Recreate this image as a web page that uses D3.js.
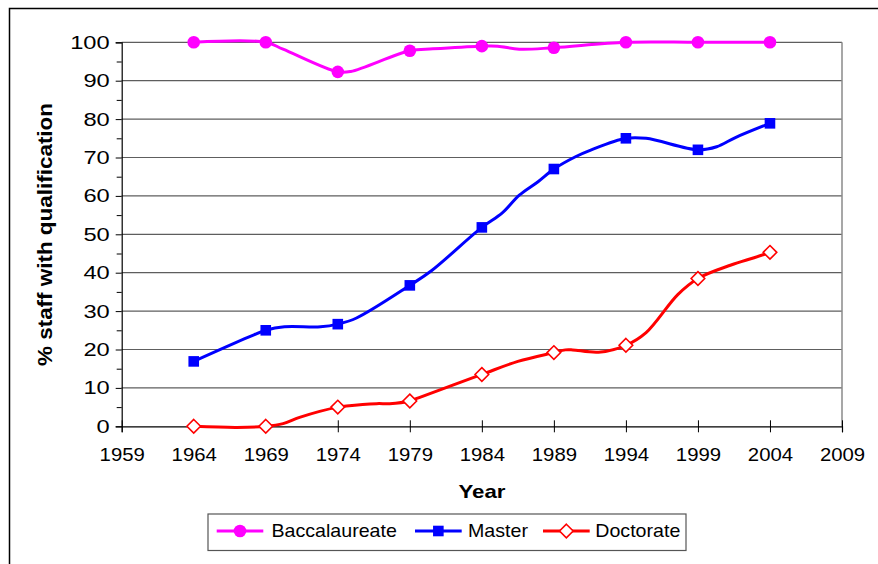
<!DOCTYPE html>
<html>
<head>
<meta charset="utf-8">
<script src="https://cdn.jsdelivr.net/npm/d3@7/dist/d3.min.js"></script>
<style>
  html, body { margin: 0; padding: 0; background: #fff; }
  svg { display: block; }
  text { font-family: "Liberation Sans", Arial, sans-serif; fill: #000; }
</style>
</head>
<body>
<svg id="chart" width="878" height="564"></svg>
<script>
// ---- data ----
const markerYears = [1964, 1969, 1974, 1979, 1984, 1989, 1994, 1999, 2004];
const xTickYears = [1959, 1964, 1969, 1974, 1979, 1984, 1989, 1994, 1999, 2004, 2009];
const yTickValues = [0, 10, 20, 30, 40, 50, 60, 70, 80, 90, 100];

const bachYears  = [1964, 1969, 1970.2, 1974, 1974.9, 1979, 1980.6, 1984, 1985.1, 1986.6, 1989, 1994, 1999, 2004];
const bachValues = [100, 100, 98.2, 92.3, 92.4, 97.8, 98.3, 99.0, 99.0, 98.2, 98.6, 100, 100, 100];

const masterYears  = [1964, 1967.8, 1969, 1970.3, 1972.8, 1974, 1975.3, 1979, 1980.5, 1984, 1985.4, 1986.6, 1987.9, 1989, 1990.5, 1991.6, 1994, 1995.4, 1999, 2000.3, 2001.6, 2004];
const masterValues = [16.9, 23.2, 25.0, 25.9, 25.9, 26.6, 28.2, 36.7, 40.5, 51.8, 55.5, 60.2, 63.7, 67.0, 70.2, 72.0, 75.0, 75.0, 72.0, 72.8, 75.2, 78.9];

const doctYears  = [1964, 1967, 1969, 1970.2, 1971.4, 1974, 1974.6, 1976.7, 1977.6, 1979, 1979.6, 1984, 1986.5, 1989, 1989.8, 1990.3, 1992.1, 1994, 1995.4, 1997.6, 1999, 2001.3, 2002.9, 2004];
const doctValues = [0, -0.3, 0, 0.7, 2.4, 5.0, 5.3, 5.9, 5.9, 6.6, 7.4, 13.5, 16.9, 19.2, 19.9, 19.9, 19.3, 21.1, 24.4, 34.3, 38.5, 42.0, 43.9, 45.3];

const seriesNames = ["Baccalaureate", "Master", "Doctorate"];

// ---- layout ----
const svg = d3.select("#chart");
const pLeft = 121.7, pRight = 842, pTop = 42.3, pBottom = 426.3;
const x = d3.scaleLinear().domain([1959, 2009]).range([pLeft, pRight]);
const y = d3.scaleLinear().domain([0, 100]).range([pBottom, pTop]);

function stretch(sel, k) {
  sel.each(function () {
    const w = this.getComputedTextLength();
    this.setAttribute("textLength", w * k);
    this.setAttribute("lengthAdjust", "spacingAndGlyphs");
  });
}

// outer frame
svg.append("rect").attr("x", 9.5).attr("y", 8.5).attr("width", 900).attr("height", 600)
  .attr("fill", "none").attr("stroke", "#000").attr("stroke-width", 1.5);

// gridlines
svg.append("g").selectAll("line").data(yTickValues.filter(v => v > 0)).join("line")
  .attr("x1", pLeft).attr("x2", pRight)
  .attr("y1", d => y(d)).attr("y2", d => y(d))
  .attr("stroke", "#5e5e5e").attr("stroke-width", 1.2);
// right border of plot area
svg.append("line").attr("x1", pRight).attr("x2", pRight).attr("y1", pTop).attr("y2", pBottom)
  .attr("stroke", "#8a8a8a").attr("stroke-width", 1.5);

// y axis
const yAxis = d3.axisLeft(y).tickValues(yTickValues).tickSize(6).tickPadding(6).tickFormat(d3.format("d"));
const gy = svg.append("g").attr("transform", `translate(${pLeft},0)`).call(yAxis);
gy.select(".domain").attr("stroke", "#000").attr("stroke-width", 1.2);
gy.selectAll(".tick line").attr("stroke", "#000");
gy.selectAll(".tick text").attr("font-size", 18.5).attr("font-family", "Liberation Sans, Arial, sans-serif")
  .attr("fill", "#000").call(stretch, 1.28);
// minor ticks
const yMinor = d3.axisLeft(y).tickValues(d3.range(5, 100, 10)).tickSize(5).tickFormat("");
const gym = svg.append("g").attr("transform", `translate(${pLeft},0)`).call(yMinor);
gym.select(".domain").remove();
gym.selectAll(".tick line").attr("stroke", "#000");

// x axis
const xAxis = d3.axisBottom(x).tickValues(xTickYears).tickSize(6).tickPadding(16).tickFormat(d3.format("d"));
const gx = svg.append("g").attr("transform", `translate(0,${pBottom})`).call(xAxis);
gx.select(".domain").attr("stroke", "#000").attr("stroke-width", 1.2);
gx.selectAll(".tick line").attr("stroke", "#000").attr("y1", -6).attr("y2", 6);
gx.selectAll(".tick text").attr("font-size", 18.5).attr("font-family", "Liberation Sans, Arial, sans-serif")
  .attr("fill", "#000").call(stretch, 1.1);

// axis titles
svg.append("text").attr("x", 482).attr("y", 498.3).attr("text-anchor", "middle")
  .attr("font-size", 19).attr("font-weight", "bold").text("Year").call(stretch, 1.17);
svg.append("text").attr("transform", "translate(52,234.5) rotate(-90)").attr("text-anchor", "middle")
  .attr("font-size", 21).attr("font-weight", "bold").text("% staff with qualification")
  .each(function () {
    this.setAttribute("textLength", 263);
    this.setAttribute("lengthAdjust", "spacingAndGlyphs");
  });

// ---- series ----
const line = d3.line().x(d => x(d[0])).y(d => y(d[1])).curve(d3.curveCatmullRom.alpha(0.5));
const series = [
  { name: seriesNames[0], years: bachYears, values: bachValues, color: "#ff00ff", marker: "circle" },
  { name: seriesNames[1], years: masterYears, values: masterValues, color: "#0000ff", marker: "square" },
  { name: seriesNames[2], years: doctYears, values: doctValues, color: "#ff0000", marker: "diamond" }
];

function drawMarker(g, type, color, cx, cy) {
  if (type === "circle") {
    g.append("circle").attr("cx", cx).attr("cy", cy).attr("r", 6.3).attr("fill", color);
  } else if (type === "square") {
    g.append("rect").attr("x", cx - 5.3).attr("y", cy - 5.3).attr("width", 10.6).attr("height", 10.6).attr("fill", color);
  } else {
    const r = 6.8;
    g.append("path").attr("d", `M${cx},${cy - r}L${cx + r},${cy}L${cx},${cy + r}L${cx - r},${cy}Z`)
      .attr("fill", "#fff").attr("stroke", color).attr("stroke-width", 1.6);
  }
}

series.forEach(s => {
  const pts = s.years.map((yr, i) => [yr, s.values[i]]);
  svg.append("path").datum(pts).attr("d", line).attr("fill", "none")
    .attr("stroke", s.color).attr("stroke-width", 3).attr("stroke-linejoin", "round");
});
series.forEach(s => {
  const g = svg.append("g");
  s.years.forEach((yr, i) => {
    if (markerYears.includes(yr)) drawMarker(g, s.marker, s.color, x(yr), y(s.values[i]));
  });
});

// ---- legend ----
const lg = svg.append("g");
lg.append("rect").attr("x", 208).attr("y", 514).attr("width", 478).attr("height", 36.5)
  .attr("fill", "#fff").attr("stroke", "#555").attr("stroke-width", 1.2);
const legendItems = [
  { s: series[0], x0: 216.7, x1: 263.3, tx: 271.5 },
  { s: series[1], x0: 415, x1: 461.7, tx: 468 },
  { s: series[2], x0: 543, x1: 589.7, tx: 595.3 }
];
legendItems.forEach(it => {
  const ly = 531;
  lg.append("line").attr("x1", it.x0).attr("x2", it.x1).attr("y1", ly).attr("y2", ly)
    .attr("stroke", it.s.color).attr("stroke-width", 3);
  drawMarker(lg, it.s.marker, it.s.color, (it.x0 + it.x1) / 2, ly);
  lg.append("text").attr("x", it.tx).attr("y", 537).attr("font-size", 18.5).text(it.s.name).call(stretch, 1.06);
});
</script>
</body>
</html>
